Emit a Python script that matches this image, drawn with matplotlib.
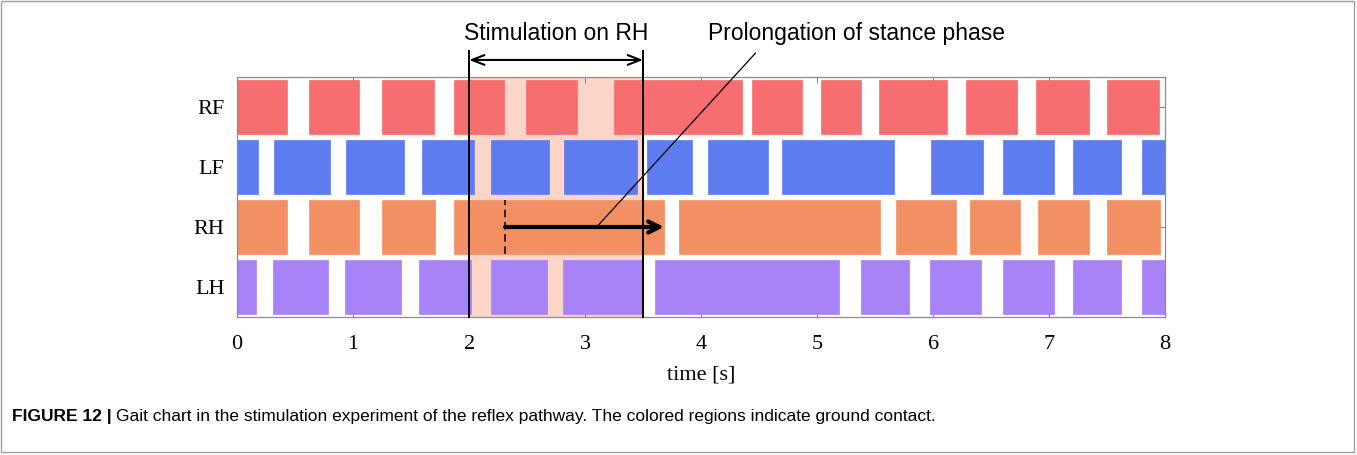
import matplotlib
matplotlib.use("Agg")
import matplotlib.pyplot as plt
from matplotlib.patches import Rectangle

# legs, top to bottom
legs = ["RF", "LF", "RH", "LH"]
colors = ["#f66e70", "#5e7bef", "#f29064", "#a882f7"]

# ground contact intervals (start, end) in seconds
rf = [(0.00, 0.43), (0.62, 1.05), (1.25, 1.70), (1.87, 2.30), (2.49, 2.93),
      (3.25, 4.35), (4.44, 4.87), (5.03, 5.38), (5.53, 6.12), (6.28, 6.72),
      (6.89, 7.34), (7.50, 7.95)]
lf = [(0.00, 0.18), (0.32, 0.80), (0.94, 1.44), (1.59, 2.04), (2.19, 2.69),
      (2.82, 3.45), (3.53, 3.92), (4.06, 4.58), (4.70, 5.66), (5.98, 6.43),
      (6.60, 7.04), (7.21, 7.62), (7.80, 8.00)]
rh = [(0.00, 0.43), (0.62, 1.05), (1.25, 1.71), (1.87, 3.68), (3.81, 5.54),
      (5.68, 6.20), (6.32, 6.75), (6.90, 7.34), (7.50, 7.96)]
lh = [(0.00, 0.16), (0.31, 0.78), (0.93, 1.41), (1.57, 2.02), (2.19, 2.67),
      (2.81, 3.50), (3.60, 5.19), (5.38, 5.79), (5.97, 6.41), (6.60, 7.04),
      (7.21, 7.62), (7.80, 8.00)]
contacts = [rf, lf, rh, lh]

stim_start, stim_end = 2.0, 3.5
prolong_start, prolong_end = 2.31, 3.68

plt.rcParams['font.family'] = ['Liberation Serif', 'DejaVu Serif']

fig = plt.figure(figsize=(13.57, 4.55), dpi=100)
ax = fig.add_axes([0.1747, 0.3033, 0.6839, 0.5275])

# stimulation window
ax.axvspan(stim_start, stim_end, color="#fbd6c8", lw=0, zorder=0)

n = len(legs)
for i, (leg, col, segs) in enumerate(zip(legs, colors, contacts)):
    y = n - 1 - i
    ax.broken_barh([(s, e - s) for s, e in segs], (y - 0.45, 0.9),
                   facecolors=col, edgecolors=col, lw=0.5, zorder=2)

ax.set_xlim(0, 8)
ax.set_ylim(-0.5, n - 0.5)
ax.set_yticks(range(n))
ax.set_yticklabels(legs[::-1])
ax.set_xticks(range(9))
ax.tick_params(direction="in", top=True, right=True, length=4, width=0.8,
               color="#888888", labelsize=16)
ax.tick_params(axis="x", pad=13)
ax.tick_params(axis="y", pad=9)
for sp in ax.spines.values():
    sp.set_color("#8c8c8c")
    sp.set_linewidth(0.9)
ax.set_xlabel("time [s]", fontsize=16, labelpad=8)

# stimulation markers
tr = ax.get_xaxis_transform()
for xv in (stim_start, stim_end):
    ax.plot([xv, xv], [0, 1.108], transform=tr, color="black", lw=1.4,
            clip_on=False, zorder=4)
ax.annotate("", xy=(stim_start, 1.071), xycoords=tr,
            xytext=(stim_end, 1.071), textcoords=tr,
            arrowprops=dict(arrowstyle="<->,head_length=0.9,head_width=0.35",
                            lw=1.5, color="black", shrinkA=0, shrinkB=0))
ax.text((stim_start + stim_end) / 2, 1.183, "Stimulation on RH",
        transform=tr, ha="center", va="center", fontsize=16.5,
        family="Liberation Sans")

# prolongation arrow on RH
y_rh = 1
ax.plot([prolong_start, prolong_start], [y_rh - 0.45, y_rh + 0.45],
        color="black", lw=1.1, ls=(0, (5, 3)), zorder=4)
ax.annotate("", xy=(prolong_end, y_rh), xytext=(prolong_start, y_rh),
            arrowprops=dict(arrowstyle="->,head_length=0.8,head_width=0.4",
                            lw=3, color="black", shrinkA=0, shrinkB=0),
            zorder=5)
ax.annotate("", xy=(3.1, y_rh), xycoords="data",
            xytext=(4.47, 1.10), textcoords=tr,
            arrowprops=dict(arrowstyle="-", lw=0.9, color="black",
                            shrinkA=0, shrinkB=0), zorder=5)
ax.text(5.34, 1.183, "Prolongation of stance phase", transform=tr,
        ha="center", va="center", fontsize=16.5, family="Liberation Sans")

# caption
fig.patches.append(Rectangle((0.001, 0.007), 0.997, 0.99,
                             transform=fig.transFigure, fill=False,
                             edgecolor="#a0a0a0", lw=1))
t1 = fig.text(0.0088, 0.085, "FIGURE 12 |", fontsize=12.5, fontweight="bold",
              family="Liberation Sans", va="center")
fig.canvas.draw()
bb = t1.get_window_extent(fig.canvas.get_renderer())
x2 = bb.x1 / fig.bbox.width + 0.003
fig.text(x2, 0.085, "Gait chart in the stimulation experiment of the reflex "
         "pathway. The colored regions indicate ground contact.",
         fontsize=12.5, family="Liberation Sans", va="center")

fig.savefig("out.png", dpi=100)
